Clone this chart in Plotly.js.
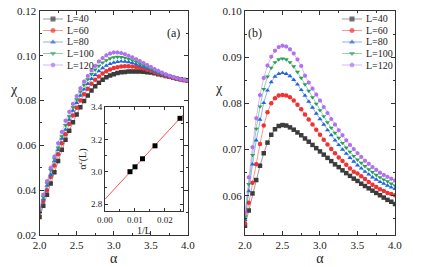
<!DOCTYPE html>
<html><head><meta charset="utf-8">
<script src="https://cdn.plot.ly/plotly-3.0.1.min.js"></script>
<style>body{margin:0;background:#fff}#g{width:424px;height:267px}</style>
</head><body><div id="g"></div>
<script>
const alpha = [2.0,2.05,2.1,2.15,2.2,2.25,2.3,2.35,2.4,2.45,2.5,2.55,2.6,2.65,2.7,2.75,2.8,2.85,2.9,2.95,3.0,3.05,3.1,3.15,3.2,3.25,3.3,3.35,3.4,3.45,3.5,3.55,3.6,3.65,3.7,3.75,3.8,3.85,3.9,3.95,4.0];
const seriesNames = ['L=40','L=60','L=80','L=100','L=120'];
// panel (a)
const a_L40  = [0.028,0.033,0.038,0.043,0.048,0.053,0.058,0.0625,0.0665,0.0703,0.0738,0.077,0.0798,0.0823,0.0845,0.0864,0.088,0.0893,0.0904,0.0912,0.0918,0.0923,0.0926,0.0928,0.093,0.093,0.093,0.093,0.0929,0.0927,0.0925,0.0922,0.0918,0.0914,0.091,0.0906,0.0902,0.0898,0.0895,0.0892,0.0889];
const a_L60  = [0.030,0.035,0.040,0.046,0.051,0.056,0.061,0.065,0.0695,0.0733,0.0768,0.080,0.0828,0.0853,0.0875,0.0893,0.0908,0.0921,0.0931,0.0939,0.0945,0.0949,0.0952,0.0953,0.0953,0.0952,0.095,0.0947,0.0943,0.0938,0.0933,0.0927,0.0921,0.0916,0.091,0.0905,0.0901,0.0897,0.0894,0.0891,0.0889];
const a_L80  = [0.0305,0.036,0.042,0.047,0.053,0.058,0.063,0.067,0.0715,0.0755,0.079,0.0822,0.085,0.0875,0.0897,0.0915,0.0932,0.0945,0.0956,0.0964,0.097,0.0973,0.0975,0.0974,0.0972,0.0968,0.0963,0.0957,0.0951,0.0944,0.0937,0.093,0.0924,0.0918,0.0912,0.0907,0.0902,0.0898,0.0895,0.0892,0.089];
const a_L100 = [0.031,0.037,0.043,0.049,0.054,0.059,0.064,0.069,0.073,0.077,0.0805,0.084,0.087,0.0895,0.0918,0.0938,0.0955,0.097,0.098,0.0988,0.0993,0.0995,0.0994,0.0991,0.0986,0.098,0.0973,0.0966,0.0958,0.095,0.0942,0.0935,0.0928,0.0921,0.0915,0.0909,0.0904,0.0899,0.0896,0.0893,0.089];
const a_L120 = [0.032,0.038,0.044,0.050,0.055,0.061,0.066,0.071,0.075,0.0785,0.082,0.0855,0.0885,0.091,0.0935,0.0955,0.0975,0.099,0.1002,0.101,0.1015,0.1015,0.1012,0.1007,0.100,0.0993,0.0985,0.0977,0.0968,0.0959,0.095,0.0941,0.0933,0.0925,0.0918,0.0911,0.0905,0.090,0.0896,0.0893,0.089];
// panel (b)
const b_L40  = [0.0535,0.0568,0.0605,0.0634,0.0665,0.0692,0.0715,0.0732,0.0744,0.0751,0.0753,0.0752,0.0748,0.0743,0.0737,0.0731,0.0724,0.0717,0.071,0.0703,0.0696,0.0689,0.0682,0.0675,0.0668,0.0662,0.0655,0.0649,0.0643,0.0637,0.0632,0.0626,0.0621,0.0616,0.0611,0.0606,0.0601,0.0596,0.0591,0.0587,0.0582];
const b_L60  = [0.054,0.0585,0.0628,0.0668,0.0712,0.0752,0.0781,0.080,0.0811,0.0817,0.0818,0.0817,0.0813,0.0806,0.0797,0.0787,0.0776,0.0765,0.0754,0.0743,0.0732,0.0721,0.0711,0.0701,0.0692,0.0683,0.0675,0.0667,0.0659,0.0652,0.0648,0.0642,0.0636,0.063,0.0624,0.0619,0.0614,0.061,0.0606,0.0604,0.0601];
const b_L80  = [0.0548,0.061,0.0668,0.072,0.0765,0.0801,0.0828,0.0846,0.0858,0.0864,0.0866,0.0864,0.0859,0.0851,0.0841,0.0829,0.0817,0.0804,0.0791,0.0778,0.0766,0.0754,0.0742,0.0731,0.072,0.071,0.070,0.0691,0.0682,0.0674,0.0666,0.0659,0.0652,0.0646,0.064,0.0635,0.063,0.0626,0.0622,0.0618,0.0615];
const b_L100 = [0.0555,0.0625,0.0688,0.0745,0.0793,0.0831,0.0858,0.0877,0.0889,0.0895,0.0897,0.0895,0.0889,0.088,0.0868,0.0855,0.0841,0.0827,0.0813,0.0799,0.0785,0.0772,0.0759,0.0747,0.0736,0.0725,0.0714,0.0704,0.0695,0.0686,0.0678,0.0671,0.0664,0.0657,0.0651,0.0645,0.064,0.0635,0.0631,0.0626,0.0622];
const b_L120 = [0.0563,0.064,0.0705,0.0768,0.0818,0.0855,0.0882,0.0901,0.0914,0.0922,0.0925,0.0923,0.0917,0.0908,0.0895,0.0881,0.086,0.0845,0.0832,0.0819,0.0806,0.0792,0.0779,0.0766,0.0754,0.0742,0.0731,0.072,0.071,0.0701,0.0692,0.0684,0.0676,0.0669,0.0662,0.0656,0.065,0.0645,0.0641,0.0637,0.0633];
// inset
const invL = [0.00833,0.01,0.0125,0.01667,0.025];
const alphaC = [3.0,3.03,3.08,3.16,3.33];
const fitX = [0,0.026];
const fitY = [2.83,3.35];

const colors = ['#3c3c3c','#f03232','#1f66e0','#2aa055','#b070f0'];
const lineColors = ['rgba(60,60,60,0.5)','rgba(240,50,50,0.5)','rgba(31,102,224,0.5)','rgba(42,160,85,0.5)','rgba(176,112,240,0.5)'];
const symbols = ['square','circle','triangle-up','triangle-down','hexagon'];
const aSets = [a_L40,a_L60,a_L80,a_L100,a_L120];
const bSets = [b_L40,b_L60,b_L80,b_L100,b_L120];
const traces = [];
const MS = 4.5;
const mk = (i)=>({color:colors[i],symbol:symbols[i],size:MS});
aSets.forEach((ys,i)=>traces.push({x:alpha,y:ys,type:'scatter',mode:'lines+markers',name:seriesNames[i],
  xaxis:'x',yaxis:'y',showlegend:false,line:{color:lineColors[i],width:1},marker:mk(i)}));
bSets.forEach((ys,i)=>traces.push({x:alpha,y:ys,type:'scatter',mode:'lines+markers',name:seriesNames[i],
  xaxis:'x2',yaxis:'y2',showlegend:false,line:{color:lineColors[i],width:1},marker:mk(i)}));
traces.push({x:fitX,y:fitY,type:'scatter',mode:'lines',xaxis:'x3',yaxis:'y3',showlegend:false,line:{color:'#ff5050',width:1}});
traces.push({x:invL,y:alphaC,type:'scatter',mode:'markers',xaxis:'x3',yaxis:'y3',showlegend:false,marker:{color:'#000',symbol:'square',size:5}});

// compact legends: sample on hidden axes, label in paper coords
const annotations = [];
const F = 'Liberation Serif, Times New Roman, serif';
const legTop = 19, legStep = 11.5;
[['x4','y4',65],['x5','y5',364]].forEach(([xa,ya,tx])=>{
  seriesNames.forEach((nm,i)=>{
    traces.push({x:[0,0.5,1],y:[i,i,i],type:'scatter',mode:'lines+markers',xaxis:xa,yaxis:ya,showlegend:false,hoverinfo:'skip',
      line:{color:lineColors[i],width:1.2},marker:{color:colors[i],symbol:symbols[i],size:[0,MS,0]}});
    annotations.push({text:nm,xref:'paper',yref:'paper',x:tx/424,y:1-(legTop+legStep*i)/267,xanchor:'left',yanchor:'middle',showarrow:false,
      font:{family:F,size:10,color:'#222'}});
  });
});

const ax = (o)=>Object.assign({showgrid:false,zeroline:false,showline:true,linecolor:'#333',linewidth:1,mirror:'allticks',
  ticks:'inside',ticklen:4,tickcolor:'#333',tickfont:{family:F,size:11,color:'#222'}},o);
const hid = (o)=>Object.assign({visible:false,fixedrange:true},o);
annotations.push(
  {text:'(a)',xref:'paper',yref:'paper',x:0.41,y:0.91,showarrow:false,font:{family:F,size:12,color:'#222'}},
  {text:'(b)',xref:'paper',yref:'paper',x:0.602,y:0.91,showarrow:false,font:{family:F,size:12,color:'#222'}},
  {text:'χ',xref:'paper',yref:'paper',x:8/424,y:1-80/267,showarrow:false,font:{family:F,size:14,color:'#222'}},
  {text:'χ',xref:'paper',yref:'paper',x:219/424,y:1-79/267,showarrow:false,font:{family:F,size:14,color:'#222'}}
);
const layout = {
  width:424,height:267,margin:{l:0,r:0,t:0,b:0},paper_bgcolor:'#fff',plot_bgcolor:'#fff',showlegend:false,
  xaxis:ax({domain:[0.0932,0.4434],anchor:'y',range:[2,4],dtick:0.5,tickformat:'.1f',minor:{ticks:'inside',ticklen:2,dtick:0.25,tickcolor:'#333'},
    title:{text:'α',font:{family:F,size:14,color:'#222'},standoff:2}}),
  yaxis:ax({domain:[0.1199,0.9588],anchor:'x',range:[0.02,0.12],dtick:0.02,tickformat:'.2f',minor:{ticks:'inside',ticklen:2,dtick:0.01,tickcolor:'#333'}}),
  xaxis2:ax({domain:[0.5778,0.9316],anchor:'y2',range:[2,4],dtick:0.5,tickformat:'.1f',minor:{ticks:'inside',ticklen:2,dtick:0.25,tickcolor:'#333'},
    title:{text:'α',font:{family:F,size:14,color:'#222'},standoff:2}}),
  yaxis2:ax({domain:[0.1199,0.9588],anchor:'x2',range:[0.0515,0.1],dtick:0.01,tickformat:'.2f',minor:{ticks:'inside',ticklen:2,dtick:0.005,tickcolor:'#333'}}),
  xaxis3:ax({domain:[0.2476,0.4316],anchor:'y3',range:[0,0.026],dtick:0.01,tickformat:'.2f',ticklen:3,tickfont:{family:F,size:9,color:'#222'},
    minor:{ticks:'inside',ticklen:2,dtick:0.005,tickcolor:'#333'},
    title:{text:'1/L',font:{family:F,size:10,color:'#222'},standoff:2}}),
  yaxis3:ax({domain:[0.2097,0.5993],anchor:'x3',range:[2.757,3.4],dtick:0.2,tickformat:'.1f',ticklen:3,tickfont:{family:F,size:9,color:'#222'},
    minor:{ticks:'inside',ticklen:2,dtick:0.1,tickcolor:'#333'},
    title:{text:'α<sup>c</sup>(L)',font:{family:F,size:10,color:'#222'},standoff:2}}),
  xaxis4:hid({domain:[43/424,63/424],range:[0,1],anchor:'y4'}),
  yaxis4:hid({domain:[1-70.75/267,1-13.25/267],range:[4.5,-0.5],anchor:'x4'}),
  xaxis5:hid({domain:[342/424,362/424],range:[0,1],anchor:'y5'}),
  yaxis5:hid({domain:[1-70.75/267,1-13.25/267],range:[4.5,-0.5],anchor:'x5'}),
  annotations:annotations
};
Plotly.newPlot('g',traces,layout,{staticPlot:true});
</script></body></html>
